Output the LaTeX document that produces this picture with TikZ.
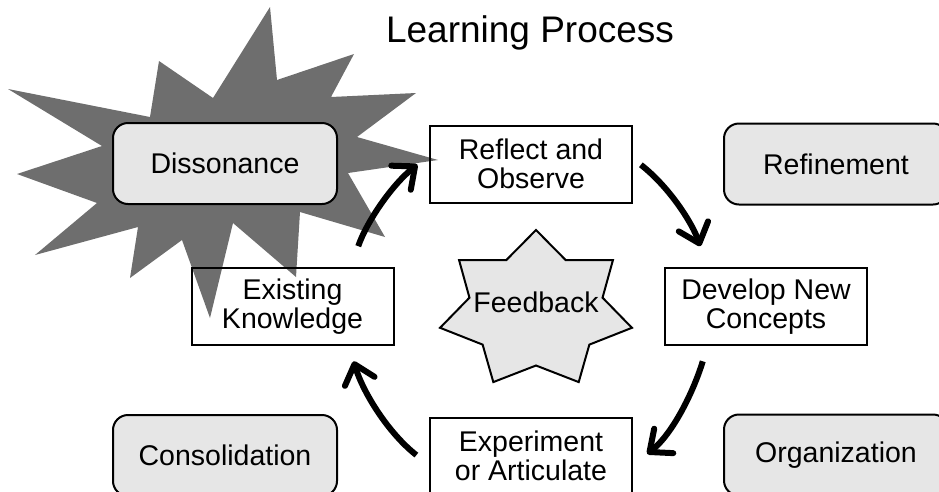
\documentclass[tikz,border=0pt]{standalone}
\usepackage{fontspec}
\setmainfont{Liberation Sans}
\usetikzlibrary{arrows.meta, positioning}
\definecolor{burstgray}{RGB}{110,110,110}
\definecolor{panelgray}{RGB}{230,230,230}

\begin{document}
\begin{tikzpicture}[
    x=1pt, y=-1pt,
    every node/.style={font=\fontsize{28.5}{29}\selectfont, align=center},
    stage/.style={draw, line width=2pt, minimum width=202pt, minimum height=77pt, inner sep=0pt},
    phase/.style={draw, line width=2pt, fill=panelgray, rounded corners=15pt,
                  minimum width=224pt, minimum height=81pt, inner sep=0pt},
    fbstar/.style={draw, line width=2pt, fill=panelgray},
    cyc/.style={line width=6pt, -{Straight Barb[length=18pt,width=31pt,round]}, looseness=0.9}
]
\useasboundingbox (0,0) rectangle (939,491);
\clip (0,0) rectangle (939,491);
% dissonance burst
\fill[burstgray] (270,7) -- (277,80) -- (354,54) -- (331,97) -- (416,93) -- (357,137)
  -- (438,160) -- (348,173) -- (385,237) -- (300,212) -- (296,277) -- (233,223)
  -- (210,318) -- (182,240) -- (130,278) -- (138,227) -- (35,255) -- (97,203)
  -- (17,174) -- (102,146) -- (8,89) -- (150,117) -- (159,61) -- (213,98) -- cycle;
\node[font=\fontsize{37}{40}\selectfont, anchor=base] (title) at (530,42) {Learning Process};
\node[phase] (dis) at (225,163.5) {Dissonance};
\node[stage] (ro) at (531,164) {Reflect and\\Observe};
\node[phase, right=90pt of ro] (ref) {Refinement};
\node[stage] (ek) at (292.5,306.5) {Existing\\Knowledge};
\node[stage] (dn) at (766,306.5) {Develop New\\Concepts};
\node[stage, below=213pt of ro] (ea) {Experiment\\or Articulate};
\node[phase, below=209pt of dis] (con) {Consolidation};
\node[phase, below=208pt of ref] (org) {Organization};
% feedback star
\begin{scope}[shift={(536,310)}, xscale=1.23]
  \draw[fbstar] (-90:80) \foreach \k in {1,...,7} { -- ({-90+(2*\k-1)*180/7}:55.5) -- ({-90+2*\k*180/7}:80) } -- cycle;
\end{scope}
\node[anchor=base] (fb) at (536,312) {Feedback};
% cycle arrows
\draw[cyc, shorten <=22pt, shorten >=15pt] (ek.34) to[out=71, in=219] (ro.175);
\draw[cyc, shorten <=10pt, shorten >=22pt] (ro.3) to[out=-38, in=109] (dn.146);
\draw[cyc, shorten <=16pt, shorten >=18pt] (dn.214) to[out=-107, in=38] (ea.-5);
\draw[cyc, shorten <=16pt, shorten >=16pt] (ea.185) to[out=142, in=-73] (ek.-35);
\end{tikzpicture}
\end{document}
